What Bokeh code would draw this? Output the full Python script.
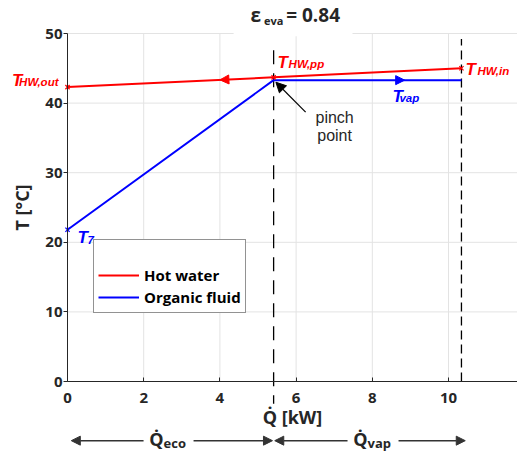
import numpy as np
from bokeh.plotting import figure
from bokeh.models import (Label, Arrow, NormalHead, Legend, LegendItem,
                          BoxAnnotation, FixedTicker)
from bokeh.embed import file_html
from bokeh.resources import INLINE

# ---------------- data ----------------
hw_q = [0.0, 5.41, 10.34]      # hot water: heat flow [kW]
hw_T = [42.3, 43.7, 45.0]      # hot water: temperature [°C]
of_q = [0.0, 5.41, 10.34]      # organic fluid: heat flow [kW]
of_T = [21.8, 43.3, 43.3]      # organic fluid: temperature [°C]
x_ticks = [0, 2, 4, 6, 8, 10]
y_ticks = [0, 10, 20, 30, 40, 50]
series_names = ["Hot water", "Organic fluid"]
eps_eva = 0.84
q_pinch = of_q[1]
q_total = of_q[2]

TXT = "#262626"
RED = "#ff0000"
BLUE = "#0000ff"
FONT = "Open Sans"
LFONT = "Liberation Sans"
BF = 5  # baseline correction (px) for alphabetic labels

# ---------------- layout (frame covers whole figure) ----------------
W, H = 517, 454
OX, OY = 67, 381          # pixel position of data origin inside the figure
SX, SY = 38.1, 6.96       # px per data unit
x_lo, x_hi = -OX / SX, (W - OX) / SX
y_lo, y_hi = -(H - OY) / SY, OY / SY

p = figure(width=W, height=H, x_range=(x_lo, x_hi), y_range=(y_lo, y_hi),
           output_backend="svg", toolbar_location=None,
           min_border_left=0, min_border_right=0, min_border_top=0,
           min_border_bottom=0)
p.outline_line_color = None
p.xgrid.visible = False
p.ygrid.visible = False

# grid lines limited to the axes box
GRID = "#e3e3e3"
p.segment(x0=x_ticks[1:], y0=0, x1=x_ticks[1:], y1=y_ticks[-1], color=GRID, line_width=1)
p.segment(x0=0, y0=y_ticks[1:], x1=x_hi, y1=y_ticks[1:], color=GRID, line_width=1)

# axes at data origin
xa_, ya_ = p.xaxis[0], p.yaxis[0]
xa_.fixed_location = 0
ya_.fixed_location = 0
xa_.bounds = (0, x_hi)
ya_.bounds = (0, y_ticks[-1])
xa_.ticker = FixedTicker(ticks=x_ticks)
ya_.ticker = FixedTicker(ticks=y_ticks)
for ax in (xa_, ya_):
    ax.axis_line_color = TXT
    ax.major_tick_line_color = TXT
    ax.minor_tick_line_color = None
    ax.major_label_text_font = FONT
    ax.major_label_text_font_style = "bold"
    ax.major_label_text_font_size = "15px"
    ax.major_label_text_color = TXT
    ax.axis_label_text_font = FONT
    ax.axis_label_text_font_style = "bold"
    ax.axis_label_text_font_size = "18px"
    ax.axis_label_text_color = TXT
xa_.major_tick_in = 4
xa_.major_tick_out = 0
xa_.major_label_standoff = 11
xa_.axis_label = "Q\u0307 [kW]"
xa_.axis_label_standoff = -1
ya_.major_tick_in = 0
ya_.major_tick_out = 4
ya_.major_label_standoff = 1
ya_.axis_label = "T [°C]"
ya_.axis_label_standoff = 8

# title background (covers grid line)
p.add_layout(BoxAnnotation(left=4.36, right=7.48, bottom=49.6, top=y_hi,
                           fill_color="white", fill_alpha=1, line_alpha=0))

# vertical reference lines
p.line([q_total, q_total], [0, 49.2], color="black", line_width=1.3,
       line_dash="9 5")
p.line([q_pinch, q_pinch], [47.6, -3.2], color="black", line_width=1.3,
       line_dash="14 9")

# curves
r_hw = p.line(hw_q, hw_T, color=RED, line_width=2)
r_of = p.line(of_q, of_T, color=BLUE, line_width=2)
p.scatter(hw_q, hw_T, marker="x", size=6, color=RED, line_width=1.2)
p.scatter(of_q[:1], of_T[:1], marker="x", size=6, color=BLUE, line_width=1.2)

# direction arrows on the curves
xa = [4.3, 4.0]
p.add_layout(Arrow(end=NormalHead(size=9, fill_color=RED, line_color=RED),
                   x_start=xa[0], y_start=float(np.interp(xa[0], hw_q, hw_T)),
                   x_end=xa[1], y_end=float(np.interp(xa[1], hw_q, hw_T)),
                   line_alpha=0))
xb = [8.5, 8.85]
p.add_layout(Arrow(end=NormalHead(size=9, fill_color=BLUE, line_color=BLUE),
                   x_start=xb[0], y_start=of_T[2], x_end=xb[1], y_end=of_T[2],
                   line_alpha=0))

# point labels (T + subscript)
def tlabel(x, y, main, sub, color, dx, dy, sdx, sdy, align="left"):
    p.add_layout(Label(x=x, y=y, text=main, x_offset=dx, y_offset=dy + BF,
                       text_align=align, text_baseline="alphabetic",
                       text_font=LFONT, text_font_style="bold italic",
                       text_font_size="17px", text_color=color))
    p.add_layout(Label(x=x, y=y, text=sub, x_offset=sdx, y_offset=sdy + BF,
                       text_align=align, text_baseline="alphabetic",
                       text_font=LFONT, text_font_style="bold italic",
                       text_font_size="11.5px", text_color=color))

tlabel(hw_q[0], hw_T[0], "T", "HW,out", RED, -45, 2, -9, 0, align="right")
tlabel(hw_q[1], hw_T[1], "T", "HW,pp", RED, 4, 10, 15, 8)
tlabel(hw_q[2], hw_T[2], "T", "HW,in", RED, 4, -6, 16, -8)
tlabel(of_q[2], of_T[2], "T", "vap", BLUE, -69, -21, -62, -23)
tlabel(of_q[0], of_T[0], "T", "7", BLUE, 10, -13, 20, -15)

# pinch point annotation
for txt, dy in (("pinch", -37), ("point", -55)):
    p.add_layout(Label(x=q_pinch, y=of_T[1], text=txt, x_offset=61, y_offset=dy,
                       text_align="center", text_baseline="middle",
                       text_font=LFONT, text_font_size="16px", text_color=TXT))
p.add_layout(Arrow(end=NormalHead(size=10, fill_color="black", line_color="black"),
                   x_start=q_pinch + 0.84, y_start=of_T[1] - 4.6,
                   x_end=q_pinch + 0.06, y_end=of_T[1] - 0.3,
                   line_color="black", line_width=1.2))

# title
for x0, txt, size, dy in ((4.8, "ε", "19px", 0), (5.16, "eva", "11px", -5),
                          (5.74, f"= {eps_eva:.2f}", "19px", 0)):
    p.add_layout(Label(x=x0, y=51.6, text=txt, y_offset=dy + BF + 2,
                       text_baseline="alphabetic", text_font=FONT,
                       text_font_style="bold", text_font_size=size,
                       text_color=TXT))

# heat-duty arrows below the axis
y_dim = -8.5
head = dict(size=9, fill_color="#333333", line_color="#333333")
p.add_layout(Arrow(start=NormalHead(**head), end=NormalHead(**head),
                   x_start=0.1, x_end=q_pinch - 0.03, y_start=y_dim, y_end=y_dim,
                   line_color="#333333", line_width=1.5))
p.add_layout(Arrow(start=NormalHead(**head), end=NormalHead(**head),
                   x_start=q_pinch + 0.03, x_end=q_total + 0.1, y_start=y_dim, y_end=y_dim,
                   line_color="#333333", line_width=1.5))
for xc, sub, dx, gl, gr in (((of_q[0] + q_pinch) / 2, "eco", -7, -27, 23),
                            ((q_pinch + q_total) / 2, "vap", 0, -20, 31)):
    p.add_layout(BoxAnnotation(left=xc + gl / SX, right=xc + gr / SX,
                               bottom=y_dim - 1.2, top=y_dim + 1.2,
                               fill_color="white", fill_alpha=1, line_alpha=0))
    p.add_layout(Label(x=xc, y=y_dim, text="Q\u0307", x_offset=dx, y_offset=-3 + BF,
                       text_align="right", text_baseline="alphabetic",
                       text_font=FONT, text_font_style="bold", text_font_size="18px",
                       text_color=TXT))
    p.add_layout(Label(x=xc, y=y_dim, text=sub, x_offset=dx, y_offset=-7 + BF,
                       text_align="left", text_baseline="alphabetic",
                       text_font=FONT, text_font_style="bold", text_font_size="13px",
                       text_color=TXT))

# legend
legend = Legend(items=[LegendItem(label=series_names[0], renderers=[r_hw]),
                       LegendItem(label=series_names[1], renderers=[r_of])],
                location=(93, H - 313), title=" ", title_text_font_size="13px",
                title_standoff=5, padding=4, spacing=0, margin=0,
                glyph_width=41, glyph_height=22, label_height=22,
                label_standoff=5, label_text_font=FONT,
                label_text_font_style="bold", label_text_font_size="15px",
                label_text_color="black", border_line_color=TXT,
                border_line_width=1, background_fill_color="white",
                background_fill_alpha=1)
p.add_layout(legend)

open("out.html", "w").write(file_html(p, INLINE))
